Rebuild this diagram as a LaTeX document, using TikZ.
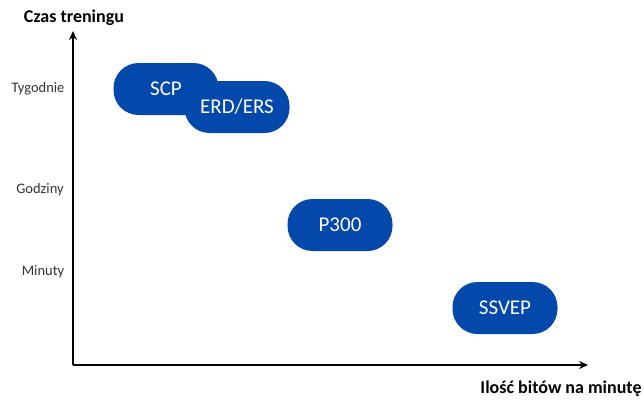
\documentclass[tikz,border=0pt]{standalone}
\usepackage{fontspec}
\setmainfont{Carlito}
\definecolor{bciblue}{RGB}{4,72,172}
\usetikzlibrary{arrows.meta,positioning}

\begin{document}
\begin{tikzpicture}[x=1pt, y=-1pt,
  blob/.style={fill=bciblue, rounded corners=25pt, minimum width=105pt,
    minimum height=52pt, inner sep=0pt, text=white, font=\fontsize{21}{21}\selectfont},
  ticklabel/.style={text=black!80, font=\fontsize{14.5}{15}\selectfont},
  axistitle/.style={font=\fontsize{18}{18}\selectfont\bfseries},
  axis/.style={line width=2pt, -{Stealth[length=9pt, width=8pt, inset=3pt]}}]

\useasboundingbox (0,0) rectangle (644,407);

% Axes
\coordinate (origin) at (73,365);
\coordinate (ytip) at (73,31);
\coordinate (xtip) at (588,365);
\draw[axis] (origin) -- (ytip);
\draw[axis] (origin) -- (xtip);

\node[axistitle] (ytitle) at (74,18) {Czas treningu};
\node[axistitle] (xtitle) at (561,389) {Ilość bitów na minutę};

% Tick labels
\node[ticklabel] (weeks) at (38,89) {Tygodnie};
\node[ticklabel] (hours) at (40,190) {Godziny};
\node[ticklabel] (minutes) at (43,272) {Minuty};

% Methods
\node[blob] (scp) at (166,89) {SCP};
\node[blob] (erd) at (237,107) {ERD/ERS};
\node[blob] (p300) at (340,225) {P300};
\node[blob] (ssvep) at (505,308) {SSVEP};

\end{tikzpicture}
\end{document}
